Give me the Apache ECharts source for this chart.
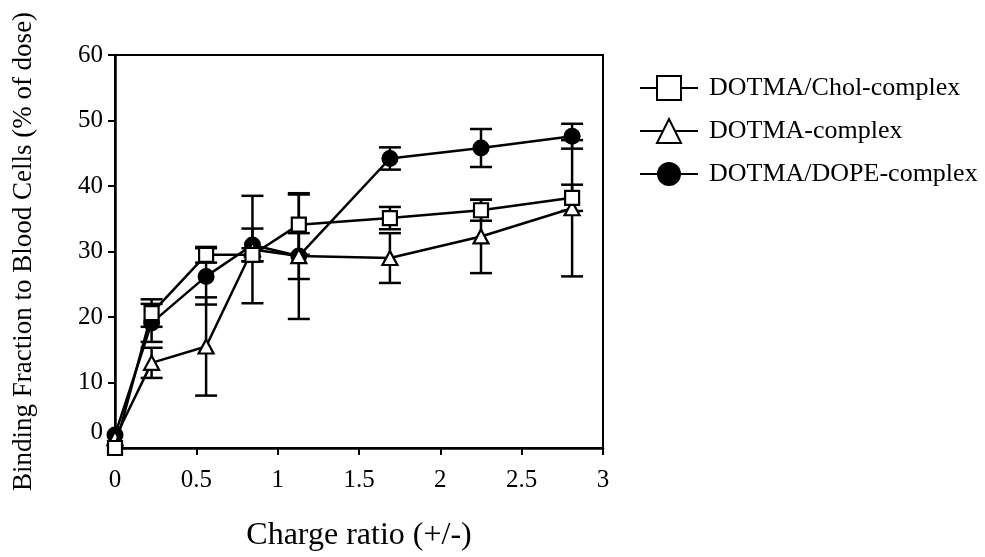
<!DOCTYPE html>
<html>
<head>
<meta charset="utf-8">
<title>Binding fraction to blood cells</title>
<script src="https://cdn.jsdelivr.net/npm/echarts@6/dist/echarts.min.js"></script>
<style>
  html, body { margin: 0; padding: 0; background: #fff; }
  #chart { width: 985px; height: 557px; }
</style>
</head>
<body>
<div id="chart"></div>
<script>
// Charge ratio (+/-) for each measurement
const chargeRatio = [0, 0.225, 0.56, 0.845, 1.13, 1.69, 2.25, 2.81];

// Binding fraction to blood cells (% of dose) and error bar half-widths
const cholMean = [0, 20.6, 29.5, 29.5, 34.1, 35.1, 36.3, 38.2];
const cholErr  = [0, 2.1, 1.2, 1.0, 4.6, 1.7, 1.6, 2.0];

const dotmaMean = [1.5, 13.0, 15.5, 30.3, 29.3, 29.0, 32.3, 36.6];
const dotmaErr  = [0, 2.3, 7.5, 8.2, 9.6, 3.8, 5.6, 10.4];

const dopeMean = [2.0, 19.1, 26.2, 31.0, 29.3, 44.2, 45.8, 47.6];
const dopeErr  = [0, 2.9, 4.3, 2.5, 3.5, 1.7, 2.9, 1.9];

const seriesNames = ['DOTMA/Chol-complex', 'DOTMA-complex', 'DOTMA/DOPE-complex'];

// Axis ticks
const xTickValues = [0, 0.5, 1, 1.5, 2, 2.5, 3];
const xTickLabels = ['0', '0.5', '1', '1.5', '2', '2.5', '3'];
const yTickValues = [2.3, 10, 20, 30, 40, 50, 60];
const yTickLabels = ['0', '10', '20', '30', '40', '50', '60'];

const FONT = '"Liberation Serif", "Times New Roman", serif';

function points(xs, ys) {
  return xs.map((x, i) => [x, ys[i]]);
}
function errRows(xs, ys, es) {
  return xs.map((x, i) => [x, ys[i] - es[i], ys[i] + es[i]]);
}

// Vertical error bar with a cap at each end
function renderErrorBar(params, api) {
  const x = api.value(0);
  const lo = api.coord([x, api.value(1)]);
  const hi = api.coord([x, api.value(2)]);
  if (Math.abs(hi[1] - lo[1]) < 1) return null;
  const half = 11;
  const style = { stroke: '#000', lineWidth: 2.5 };
  return {
    type: 'group',
    children: [
      { type: 'line', shape: { x1: lo[0], y1: lo[1], x2: hi[0], y2: hi[1] }, style },
      { type: 'line', shape: { x1: lo[0] - half, y1: lo[1], x2: lo[0] + half, y2: lo[1] }, style },
      { type: 'line', shape: { x1: hi[0] - half, y1: hi[1], x2: hi[0] + half, y2: hi[1] }, style }
    ]
  };
}

function errorSeries(name, rows) {
  return {
    type: 'custom',
    name: name + ' error',
    renderItem: renderErrorBar,
    data: rows,
    encode: { x: 0, y: [1, 2] },
    z: 1,
    silent: true
  };
}

const lineStyle = { color: '#000', width: 2.5 };

const chart = echarts.init(document.getElementById('chart'), null, { renderer: 'canvas' });
chart.setOption({
  animation: false,
  backgroundColor: '#fff',
  textStyle: { fontFamily: FONT, color: '#000' },
  grid: {
    left: 115, right: 382, top: 55, bottom: 109,
    show: true, borderColor: '#000', borderWidth: 2,
    containLabel: false, outerBoundsMode: 'none'
  },
  legend: {
    orient: 'vertical',
    left: 634, top: 70,
    itemWidth: 58, itemHeight: 30, itemGap: 17,
    data: seriesNames,
    textStyle: { fontFamily: FONT, fontSize: 26, color: '#000', padding: [0, 0, 0, 6] },
    selectedMode: false
  },
  xAxis: {
    type: 'value',
    min: 0, max: 3,
    name: 'Charge ratio (+/-)',
    nameLocation: 'middle',
    nameGap: 72,
    nameTextStyle: { fontFamily: FONT, fontSize: 32, color: '#000' },
    axisLine: { show: true, onZero: false, lineStyle: { color: '#000', width: 2.5 } },
    axisTick: { show: true, inside: false, length: 7, customValues: xTickValues, lineStyle: { color: '#000', width: 2 } },
    axisLabel: {
      show: true, margin: 20, fontFamily: FONT, fontSize: 25, color: '#000',
      customValues: xTickValues,
      formatter: v => xTickLabels[xTickValues.indexOf(v)]
    },
    splitLine: { show: false }
  },
  yAxis: {
    type: 'value',
    min: 0, max: 60,
    name: 'Binding Fraction to Blood Cells (% of dose)',
    nameLocation: 'middle',
    nameGap: 78,
    nameTextStyle: { fontFamily: FONT, fontSize: 27, color: '#000' },
    axisLine: { show: true, onZero: false, lineStyle: { color: '#000', width: 2.5 } },
    axisTick: { show: true, inside: false, length: 7, customValues: yTickValues, lineStyle: { color: '#000', width: 2 } },
    axisLabel: {
      show: true, margin: 12, fontFamily: FONT, fontSize: 25, color: '#000',
      customValues: yTickValues,
      formatter: v => yTickLabels[yTickValues.indexOf(v)]
    },
    splitLine: { show: false }
  },
  series: [
    errorSeries(seriesNames[2], errRows(chargeRatio, dopeMean, dopeErr)),
    errorSeries(seriesNames[1], errRows(chargeRatio, dotmaMean, dotmaErr)),
    errorSeries(seriesNames[0], errRows(chargeRatio, cholMean, cholErr)),
    {
      type: 'line',
      name: seriesNames[2],
      data: points(chargeRatio, dopeMean),
      symbol: 'circle',
      symbolSize: 17,
      showAllSymbol: true,
      lineStyle: lineStyle,
      itemStyle: { color: '#000', borderColor: '#000', borderWidth: 0 },
      z: 2
    },
    {
      type: 'line',
      name: seriesNames[1],
      data: points(chargeRatio, dotmaMean),
      symbol: 'triangle',
      symbolSize: [15, 14],
      showAllSymbol: true,
      lineStyle: lineStyle,
      itemStyle: { color: '#fff', borderColor: '#000', borderWidth: 2.2 },
      z: 3
    },
    {
      type: 'line',
      name: seriesNames[0],
      data: points(chargeRatio, cholMean),
      symbol: 'rect',
      symbolSize: 14,
      showAllSymbol: true,
      lineStyle: lineStyle,
      itemStyle: { color: '#fff', borderColor: '#000', borderWidth: 2.2 },
      z: 4
    }
  ]
});
</script>
</body>
</html>
